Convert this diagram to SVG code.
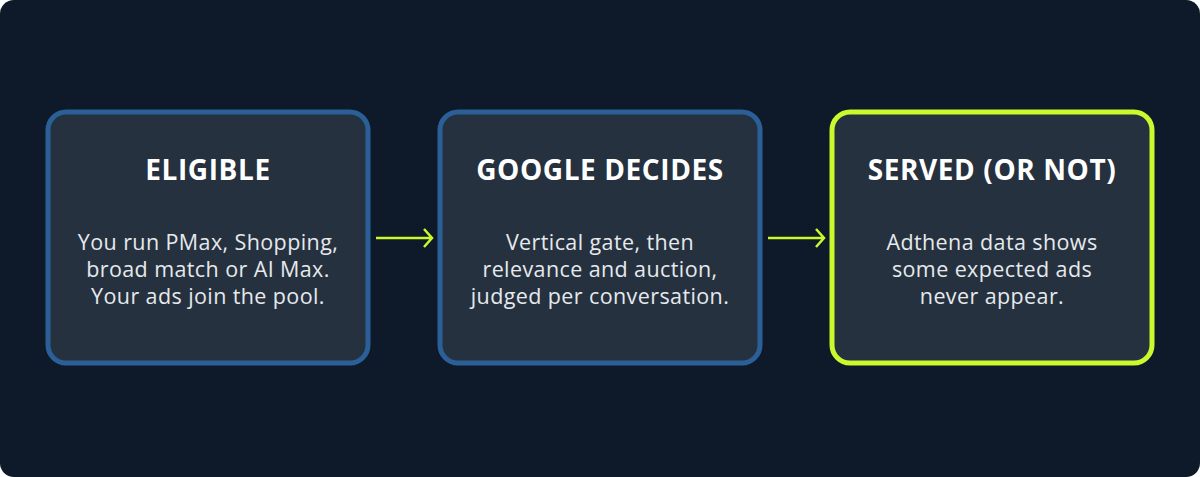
<svg xmlns="http://www.w3.org/2000/svg" width="1200" height="477" viewBox="0 0 1200 477">
<style>
.box{fill:#25313e;stroke-width:5}
.b{stroke:#2a5f97}
.g{stroke:#c8fa2d}
.t{font-family:"Open Sans",Inter,sans-serif;font-weight:700;font-size:28px;letter-spacing:0.6px;fill:#fff;text-anchor:middle}
.d{font-family:"Open Sans",Inter,sans-serif;font-size:21.5px;letter-spacing:0.4px;fill:#e6e9ed;text-anchor:middle}
.c{stroke:#c8fa2d;stroke-width:2.5;fill:none}
</style>
<rect width="1200" height="477" rx="14" fill="#0e1a29"/>
<g id="eligible"><rect class="box b" x="48" y="112" width="320" height="251" rx="18"/>
<text class="t" x="208" y="180">ELIGIBLE</text>
<text class="d" x="208" y="250">You run PMax, Shopping,</text>
<text class="d" x="208" y="277">broad match or AI Max.</text>
<text class="d" x="208" y="304">Your ads join the pool.</text></g>
<g id="google"><rect class="box b" x="440" y="112" width="320" height="251" rx="18"/>
<text class="t" x="600" y="180">GOOGLE DECIDES</text>
<text class="d" x="600" y="250">Vertical gate, then</text>
<text class="d" x="600" y="277">relevance and auction,</text>
<text class="d" x="600" y="304">judged per conversation.</text></g>
<g id="served"><rect class="box g" x="832" y="112" width="320" height="251" rx="18"/>
<text class="t" x="992" y="180">SERVED (OR NOT)</text>
<text class="d" x="992" y="250">Adthena data shows</text>
<text class="d" x="992" y="277">some expected ads</text>
<text class="d" x="992" y="304">never appear.</text></g>
<g id="connectors">
<path class="c" d="M376 238H432M424 229L432 238L424 247"/>
<path class="c" d="M768 238H824M816 229L824 238L816 247"/>
</g>
</svg>
